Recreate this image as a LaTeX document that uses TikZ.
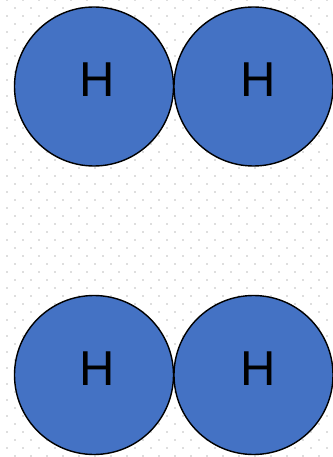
\documentclass[tikz,border=0pt]{standalone}
\usepackage{fontspec}
\setmainfont{Liberation Sans}
\definecolor{hblue}{HTML}{4472C4}
\definecolor{dotgray}{HTML}{DEDEDE}
\begin{document}
\begin{tikzpicture}[x=1pt,y=-1pt,
  atom/.style={circle,draw=black,line width=1.4pt,fill=hblue,minimum size=159pt,inner sep=0pt},
  hlabel/.style={font=\fontsize{49}{49}\selectfont,text=black,inner sep=0pt,anchor=center}]
\useasboundingbox (0,0) rectangle (332,457);
\fill[white] (0,0) rectangle (332,457);
\foreach \k in {0,...,41}{\foreach \m in {0,...,57}{
  \pgfmathparse{int(mod(\k+\m,2))}
  \ifnum\pgfmathresult=0
    \fill[dotgray] (5.7+\k*8,-1+\m*8) rectangle ++(2,2);
  \fi}}
\node[atom] (a1) at (94,86.5) {};
\node[atom] (a2) at (253.5,86.5) {};
\node[atom] (b1) at (94,375) {};
\node[atom] (b2) at (253.5,375) {};
\node[hlabel] (t1) at (97.5,80) {\vphantom{H}H};
\node[hlabel] (t2) at (258,80) {H};
\node[hlabel] (t3) at (97.5,369) {H};
\node[hlabel] (t4) at (258,369) {H};
\end{tikzpicture}
\end{document}
